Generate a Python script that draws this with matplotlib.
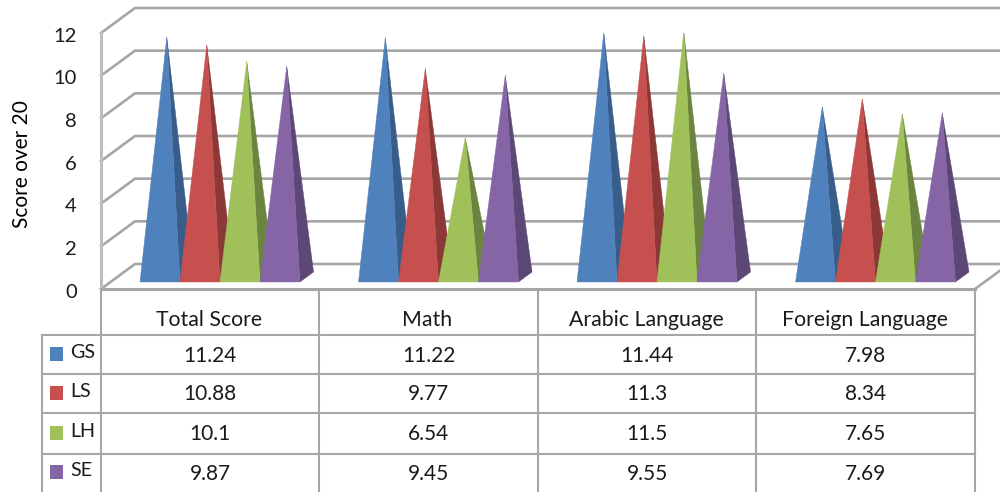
import matplotlib
matplotlib.use('Agg')
import matplotlib.pyplot as plt
from matplotlib.patches import Polygon, Rectangle

plt.rcParams['font.family'] = ['Lato', 'DejaVu Sans']

categories = ['Total Score', 'Math', 'Arabic Language', 'Foreign Language']
series = ['GS', 'LS', 'LH', 'SE']
gs = [11.24, 11.22, 11.44, 7.98]
ls = [10.88, 9.77, 11.3, 8.34]
lh = [10.1, 6.54, 11.5, 7.65]
se = [9.87, 9.45, 9.55, 7.69]
gs_text = ['11.24', '11.22', '11.44', '7.98']
ls_text = ['10.88', '9.77', '11.3', '8.34']
lh_text = ['10.1', '6.54', '11.5', '7.65']
se_text = ['9.87', '9.45', '9.55', '7.69']
yticks = [0, 2, 4, 6, 8, 10, 12]

face_colors = ['#4F81BD', '#C6504E', '#A0C15A', '#8565A6']
side_colors = ['#385D8A', '#8C3836', '#6B8540', '#5C4776']
grid_color = '#A6A6A6'
text_color = '#1A1A1A'

W, H = 1000, 492
fig = plt.figure(figsize=(W / 100, H / 100), dpi=100)

# overlay in pixels, only for the table frame and the loose labels
px = fig.add_axes([0, 0, 1, 1])
px.set_xlim(0, W)
px.set_ylim(H, 0)
px.axis('off')

# front plane of the 3d box: x in categories, y in score
left, right, bottom, top = 101, 975, 289, 33
ax = fig.add_axes([left / W, 1 - bottom / H, (right - left) / W, (bottom - top) / H])
ax.set_xlim(0, 4)
ax.set_ylim(0, 12)
ax.axis('off')

# box depth in data units
dx = 34 / ((right - left) / 4)
dy = 25 / ((bottom - top) / 12)

for v in yticks:
    ax.plot([0, dx, 4.2], [v, v + dy, v + dy], color=grid_color, lw=1.9, clip_on=False,
            solid_joinstyle='miter', zorder=1)
ax.plot([0, 0], [0, 12], color='#BDBDBD', lw=2.2, clip_on=False, zorder=1)
ax.plot([4, 4 + dx * 0.75], [0, dy * 0.75], color=grid_color, lw=1.9, clip_on=False, zorder=1)
ax.plot([0, 4], [0, 0], color=grid_color, lw=2.2, clip_on=False, zorder=2)

bar_w = 0.183
group_start = 0.135
front, back = 0.28, 0.68
for j, values in enumerate([gs, ls, lh, se]):
    for i, v in enumerate(values):
        x0 = i + group_start + j * bar_w + front * dx
        x1 = x0 + bar_w
        y0 = front * dy
        tip = ((x0 + x1) / 2 + 0.48 * dx - front * dx, v + 0.48 * dy)
        back_r = (x1 + (back - front) * dx, back * dy)
        ax.add_patch(Polygon([(x1, y0), back_r, tip], color=side_colors[j], lw=0.3, zorder=3 + j))
        ax.add_patch(Polygon([(x0, y0), (x1, y0), tip], color=face_colors[j], lw=0.3, zorder=3 + j))

for v in yticks:
    ax.annotate(str(v), (0, v), xytext=(-24, -3), textcoords='offset pixels', ha='right',
                va='center', fontsize=14.5, color=text_color, annotation_clip=False)

px.text(22, 164, 'Score over 20', rotation=90, ha='center', va='center', fontsize=15,
        color='#000000')

# table under the plot
col_x = [101, 319, 538, 756, 975]
row_y = [335, 374, 413, 454, 492]
for x in col_x:
    px.plot([x, x], [bottom, H], color=grid_color, lw=1.5, zorder=1)
px.plot([42, 42], [row_y[0], H], color=grid_color, lw=1.5, zorder=1)
for y in row_y[:-1]:
    px.plot([42, 975], [y, y], color=grid_color, lw=1.5, zorder=1)

for i, name in enumerate(categories):
    px.text((col_x[i] + col_x[i + 1]) / 2 - 1, 320, name, ha='center', va='center',
            fontsize=15.3, color=text_color)

rows = [gs_text, ls_text, lh_text, se_text]
for r, name in enumerate(series):
    yc = (row_y[r] + row_y[r + 1]) / 2
    px.add_patch(Rectangle((50, yc - 8), 13, 14, color=face_colors[r], lw=0))
    px.text(70, yc - 2, name, ha='left', va='center', fontsize=14.2, color=text_color)
    for i, label in enumerate(rows[r]):
        px.text((col_x[i] + col_x[i + 1]) / 2, yc + 1, label, ha='center', va='center',
                fontsize=15, color=text_color)

fig.savefig('out.png', dpi=100)
